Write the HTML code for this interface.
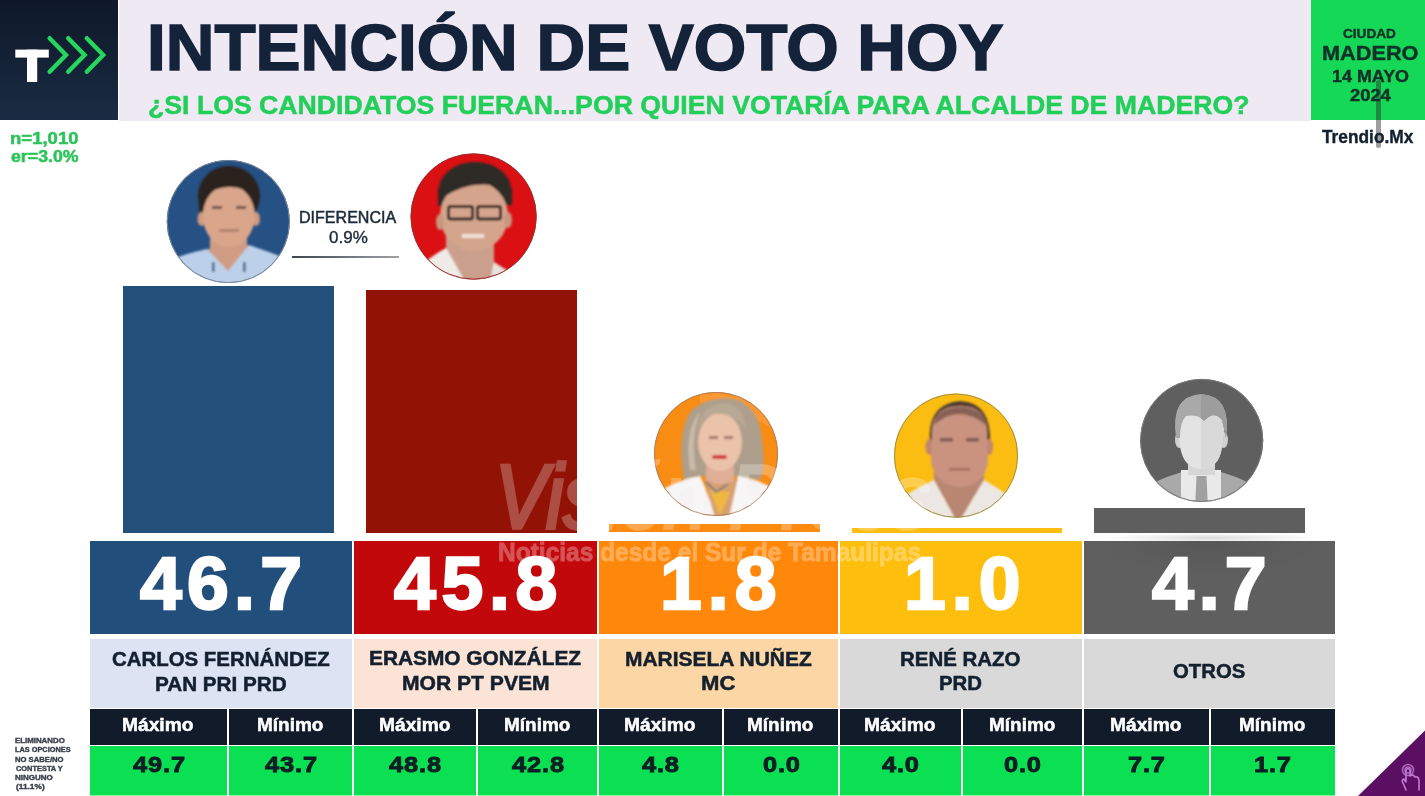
<!DOCTYPE html>
<html><head><meta charset="utf-8"><style>
html,body{margin:0;padding:0;background:#fff;width:1425px;height:796px;overflow:hidden;position:relative}
.b{position:absolute}
.t{position:absolute;white-space:nowrap;line-height:1;font-family:"Liberation Sans",sans-serif;transform-origin:0 0}
svg{position:absolute;left:0;top:0}
</style></head><body>
<div class="b" style="left:0px;top:0px;width:118px;height:120px;background:linear-gradient(#0e1828,#1a2c44);"></div><div class="b" style="left:119px;top:0px;width:1192px;height:120.5px;background:#efe9f4;"></div><div class="b" style="left:1311px;top:0px;width:114px;height:120px;background:#14d856;"></div><div class="b" style="left:123px;top:286px;width:211px;height:247px;background:#234f7b;"></div><div class="b" style="left:366px;top:290px;width:211px;height:243px;background:#921306;"></div><div class="b" style="left:609px;top:524px;width:211px;height:8px;background:#fd8a10;"></div><div class="b" style="left:852px;top:528px;width:210px;height:5px;background:#fcbd12;"></div><div class="b" style="left:1094px;top:508px;width:211px;height:25px;background:#5e5e5e;"></div><div class="b" style="left:90px;top:541px;width:262px;height:93px;background:#224e7c;"></div><div class="b" style="left:90px;top:639px;width:262px;height:69px;background:#dce3f2;"></div><div class="b" style="left:354px;top:541px;width:243px;height:93px;background:#c3080b;"></div><div class="b" style="left:354px;top:639px;width:243px;height:69px;background:#fbe3d6;"></div><div class="b" style="left:599px;top:541px;width:239px;height:93px;background:#ff880b;"></div><div class="b" style="left:599px;top:639px;width:239px;height:69px;background:#fdd6a6;"></div><div class="b" style="left:840px;top:541px;width:242px;height:93px;background:#fdbe0e;"></div><div class="b" style="left:840px;top:639px;width:242px;height:69px;background:#d9d9d9;"></div><div class="b" style="left:1084px;top:541px;width:251px;height:93px;background:#5f5f5f;"></div><div class="b" style="left:1084px;top:639px;width:251px;height:69px;background:#d9d9d9;"></div><div class="b" style="left:90px;top:709px;width:137px;height:36px;background:#111b2a;"></div><div class="b" style="left:90px;top:746px;width:137px;height:49px;background:#0ae052;"></div><div class="b" style="left:90px;top:795px;width:137px;height:1px;background:#86f99c;"></div><div class="b" style="left:229px;top:709px;width:123px;height:36px;background:#111b2a;"></div><div class="b" style="left:229px;top:746px;width:123px;height:49px;background:#0ae052;"></div><div class="b" style="left:229px;top:795px;width:123px;height:1px;background:#86f99c;"></div><div class="b" style="left:354px;top:709px;width:122px;height:36px;background:#111b2a;"></div><div class="b" style="left:354px;top:746px;width:122px;height:49px;background:#0ae052;"></div><div class="b" style="left:354px;top:795px;width:122px;height:1px;background:#86f99c;"></div><div class="b" style="left:478px;top:709px;width:119px;height:36px;background:#111b2a;"></div><div class="b" style="left:478px;top:746px;width:119px;height:49px;background:#0ae052;"></div><div class="b" style="left:478px;top:795px;width:119px;height:1px;background:#86f99c;"></div><div class="b" style="left:599px;top:709px;width:123px;height:36px;background:#111b2a;"></div><div class="b" style="left:599px;top:746px;width:123px;height:49px;background:#0ae052;"></div><div class="b" style="left:599px;top:795px;width:123px;height:1px;background:#86f99c;"></div><div class="b" style="left:724px;top:709px;width:114px;height:36px;background:#111b2a;"></div><div class="b" style="left:724px;top:746px;width:114px;height:49px;background:#0ae052;"></div><div class="b" style="left:724px;top:795px;width:114px;height:1px;background:#86f99c;"></div><div class="b" style="left:840px;top:709px;width:121px;height:36px;background:#111b2a;"></div><div class="b" style="left:840px;top:746px;width:121px;height:49px;background:#0ae052;"></div><div class="b" style="left:840px;top:795px;width:121px;height:1px;background:#86f99c;"></div><div class="b" style="left:963px;top:709px;width:119px;height:36px;background:#111b2a;"></div><div class="b" style="left:963px;top:746px;width:119px;height:49px;background:#0ae052;"></div><div class="b" style="left:963px;top:795px;width:119px;height:1px;background:#86f99c;"></div><div class="b" style="left:1084px;top:709px;width:125px;height:36px;background:#111b2a;"></div><div class="b" style="left:1084px;top:746px;width:125px;height:49px;background:#0ae052;"></div><div class="b" style="left:1084px;top:795px;width:125px;height:1px;background:#86f99c;"></div><div class="b" style="left:1211px;top:709px;width:124px;height:36px;background:#111b2a;"></div><div class="b" style="left:1211px;top:746px;width:124px;height:49px;background:#0ae052;"></div><div class="b" style="left:1211px;top:795px;width:124px;height:1px;background:#86f99c;"></div><div class="b" style="left:1100px;top:533px;width:220px;height:8px;background:radial-gradient(ellipse 50% 60% at 50% 60%, rgba(0,0,0,0.14), rgba(0,0,0,0));"></div><div class="b" style="left:1084px;top:541px;width:251px;height:34px;background:radial-gradient(ellipse 45% 100% at 50% 0%, rgba(0,0,0,0.09), rgba(0,0,0,0));"></div><div class="b" style="left:292px;top:256.3px;width:107px;height:1.6999999999999886px;background:linear-gradient(90deg,#40464f,#a0a2a6);"></div><div class="b" style="left:1375.5px;top:80px;width:5.5px;height:68px;background:rgba(40,40,40,0.45);border-radius:3px;"></div>
<svg width="1425" height="796" viewBox="0 0 1425 796"><defs><clipPath id="c0"><circle cx="228.3" cy="221.5" r="61.5"/></clipPath><clipPath id="c1"><circle cx="473.6" cy="216.5" r="63"/></clipPath><clipPath id="c2"><circle cx="716" cy="454" r="62"/></clipPath><clipPath id="c3"><circle cx="956" cy="455.6" r="62"/></clipPath><clipPath id="c4"><circle cx="1201.7" cy="440.4" r="61.5"/></clipPath><filter id="bl" x="-20%" y="-20%" width="140%" height="140%"><feGaussianBlur stdDeviation="0.8"/></filter></defs><g><rect x="15.3" y="49.6" width="33.5" height="8" fill="#fff"/><rect x="27" y="49.6" width="10.2" height="32.4" fill="#fff"/><polyline points="49.6,38.2 66,55 49.6,71.8" fill="none" stroke="#25d75c" stroke-width="4.4" stroke-linecap="round" stroke-linejoin="miter"/><polyline points="68.2,38.2 84.6,55 68.2,71.8" fill="none" stroke="#25d75c" stroke-width="4.4" stroke-linecap="round" stroke-linejoin="miter"/><polyline points="86.80000000000001,38.2 103.2,55 86.80000000000001,71.8" fill="none" stroke="#25d75c" stroke-width="4.4" stroke-linecap="round" stroke-linejoin="miter"/></g><g clip-path="url(#c0)"><rect x="160" y="150" width="140" height="140" fill="#265184"/><g filter="url(#bl)"><ellipse cx="229" cy="196" rx="31" ry="30" fill="#2b201d"/><path d="M199 200 Q198 222 204 215 L204 200Z" fill="#2b201d"/><ellipse cx="201.5" cy="219" rx="4" ry="7" fill="#cf9a80"/><ellipse cx="256" cy="219" rx="4" ry="7" fill="#cf9a80"/><rect x="210" y="232" width="37" height="30" fill="#d09c84"/><path d="M207 249 L228 273 L249 245Z" fill="#d09c84"/><ellipse cx="228.8" cy="216" rx="26" ry="31" fill="#d9a68c"/><path d="M203 184 Q229 170 255 186 L256 196 Q230 178 203 196Z" fill="#2b201d"/><path d="M160 300 L168 262 Q176 256 207 249 L228 271 L249 245 Q270 252 282 257 L295 300Z" fill="#bcd0ea"/><rect x="212" y="262" width="2.5" height="10" fill="#3a5f88"/><rect x="243" y="262" width="2.5" height="10" fill="#3a5f88"/><rect x="212" y="206" width="10" height="3" fill="#4a3028" opacity="0.7"/><rect x="236" y="206" width="10" height="3" fill="#4a3028" opacity="0.7"/><rect x="219" y="229" width="20" height="3" fill="#9a6a5a" opacity="0.6"/></g></g><circle cx="228.3" cy="221.5" r="61.1" fill="none" stroke="#7c8796" stroke-width="1"/><g clip-path="url(#c1)"><rect x="405" y="145" width="140" height="145" fill="#da1013"/><g filter="url(#bl)"><ellipse cx="475" cy="189" rx="36" ry="27" fill="#2f2a27"/><rect x="438" y="188" width="8" height="18" fill="#2f2a27"/><rect x="503" y="188" width="9" height="17" fill="#2f2a27"/><rect x="446" y="236" width="48" height="45" fill="#caa08c"/><ellipse cx="474" cy="216" rx="34" ry="35" fill="#d5a48c"/><ellipse cx="440" cy="222" rx="4" ry="8" fill="#c99680"/><ellipse cx="508" cy="220" rx="4" ry="8" fill="#c99680"/><path d="M442 192 Q470 165 509 185 L509 190 Q475 176 442 198Z" fill="#2f2a27"/><rect x="448.5" y="206.5" width="24" height="12.5" rx="2" fill="none" stroke="#2a2424" stroke-width="3"/><rect x="477.5" y="206.5" width="23" height="12.5" rx="2" fill="none" stroke="#2a2424" stroke-width="3"/><path d="M405 295 L425 262 Q438 252 446 248 L470 290Z" fill="#efebe7"/><path d="M488 290 L494 262 Q505 270 520 276 L530 300Z" fill="#e8e2dc"/><rect x="462" y="234" width="22" height="4" fill="#f4f0ea" opacity="0.8"/></g></g><circle cx="473.6" cy="216.5" r="62.6" fill="none" stroke="#9a3030" stroke-width="1"/><g clip-path="url(#c2)"><rect x="650" y="388" width="135" height="135" fill="#f98c13"/><path d="M700 392 Q750 392 790 425 L790 440 Q750 410 700 403Z" fill="#fca048" opacity="0.6"/><g filter="url(#bl)"><path d="M684 480 Q676 430 692 410 Q712 394 738 400 Q760 410 762 440 Q766 470 760 480 Q730 474 712 476 Q695 476 684 480Z" fill="#ae9f8c"/><path d="M690 470 Q684 430 700 412 Q690 440 696 470Z" fill="#c8bca8"/><rect x="706" y="460" width="28" height="24" fill="#dfae96"/><ellipse cx="720" cy="442" rx="22" ry="29" fill="#ebc2aa"/><path d="M698 425 Q705 402 728 403 Q745 408 746 430 Q735 412 712 414 Q702 418 698 430Z" fill="#b8a994"/><rect x="709" y="436" width="9" height="3" fill="#6a4a40" opacity="0.6"/><rect x="724" y="436" width="9" height="3" fill="#6a4a40" opacity="0.6"/><rect x="712" y="455" width="15" height="4" rx="2" fill="#d03838"/><path d="M650 530 L658 492 Q676 481 700 476 L718 520 L738 476 Q762 480 778 492 L790 530Z" fill="#f5f3f3"/><path d="M704 478 L716 522 L728 522 L738 478 Q722 490 704 478Z" fill="#d8a070"/><path d="M710 490 L720 516 L730 492Z" fill="#f0b840"/><path d="M706 482 L716 492 L728 484" fill="none" stroke="#7a7a80" stroke-width="2"/></g></g><circle cx="716" cy="454" r="61.6" fill="none" stroke="#b08060" stroke-width="1"/><g clip-path="url(#c3)"><rect x="890" y="388" width="135" height="135" fill="#fbbd12"/><g filter="url(#bl)"><path d="M930 445 Q926 404 960 401 Q992 402 990 445 L984 440 Q986 414 960 412 Q934 414 936 440Z" fill="#4e3a30"/><rect x="934" y="466" width="50" height="30" fill="#b98672"/><path d="M934 478 L958 526 L984 478Z" fill="#b98672"/><ellipse cx="929.5" cy="447" rx="4" ry="8" fill="#c08570"/><ellipse cx="989" cy="447" rx="4" ry="8" fill="#c08570"/><path d="M932 430 Q934 406 960 406 Q986 406 987 430 L988 462 Q984 486 960 487 Q936 486 931 462Z" fill="#c99380"/><path d="M934 425 Q936 408 960 407 Q984 408 986 425 Q972 414 960 414 Q946 414 934 425Z" fill="#6a4c40" opacity="0.7"/><rect x="940" y="438" width="13" height="3.5" fill="#5a3a30" opacity="0.65"/><rect x="966" y="438" width="13" height="3.5" fill="#5a3a30" opacity="0.65"/><rect x="949" y="468" width="21" height="2.5" fill="#8a5a4a" opacity="0.6"/><path d="M890 530 L898 500 Q916 488 934 480 L958 524 L984 480 Q1002 490 1020 505 L1025 530Z" fill="#ede7e3"/></g></g><circle cx="956" cy="455.6" r="61.6" fill="none" stroke="#a09050" stroke-width="1"/><g clip-path="url(#c4)"><rect x="1135" y="375" width="135" height="135" fill="#5f5f5f"/><path d="M1145 510 L1150 485 Q1165 476 1190 470 L1213 470 Q1238 476 1252 485 L1260 510Z" fill="#a9a9a9"/><path d="M1181 470 L1221 470 L1221 510 L1181 510Z" fill="#e9e9e9"/><path d="M1196.5 476 L1206.5 476 L1208 510 L1195 510Z" fill="#a0a0a0"/><rect x="1188" y="455" width="27" height="20" fill="#d6d6d6"/><ellipse cx="1179.5" cy="440" rx="4.5" ry="8" fill="#cfcfcf"/><ellipse cx="1223.5" cy="440" rx="4.5" ry="8" fill="#cfcfcf"/><path d="M1176.5 420 Q1176 396 1201 396 Q1226 396 1225 420 L1222 446 Q1220 468 1201 469 Q1183 468 1180 446Z" fill="#e3e3e3"/><path d="M1201 396 L1201 469 Q1220 468 1222 446 L1225 420 Q1226 396 1201 396Z" fill="#d9d9d9"/><path d="M1176 438 Q1170 396 1201 394 Q1232 396 1226 438 L1222 420 Q1214 410 1204 421 Q1198 414 1186 416 Q1180 422 1180 438Z" fill="#a9a9a9"/><path d="M1201 394 Q1232 396 1226 438 L1222 420 Q1214 410 1204 421 L1201 418Z" fill="#9d9d9d"/></g><circle cx="1201.7" cy="440.4" r="61.1" fill="none" stroke="#7a7a7a" stroke-width="1"/><path d="M1358 796 L1425 730.5 L1425 796Z" fill="#5b0f63"/><g fill="none" stroke="#c07ad0" stroke-width="1.6" stroke-linecap="round" stroke-linejoin="round"><circle cx="1408" cy="770" r="5.5" opacity="0.8"/><circle cx="1408" cy="770" r="3" opacity="0.8"/><path d="M1406 790 L1403 783 Q1401 780 1404 779 L1406 782 L1406 770 Q1408 767 1410 770 L1410 776 Q1413 774 1415 777 Q1418 776 1419 780 L1419 790"/></g></svg>
<div class="t" style="left:147.25px;top:14.96px;font-size:65.26px;font-weight:bold;color:#14233a;transform:scaleX(1.0331);-webkit-text-stroke:1.6px #14233a;">INTENCIÓN DE VOTO HOY</div><div class="t" style="left:148.28px;top:91.88px;font-size:26.31px;font-weight:bold;color:#22cf58;transform:scaleX(1.0139);-webkit-text-stroke:0.5px #22cf58;">¿SI LOS CANDIDATOS FUERAN...POR QUIEN VOTARÍA PARA ALCALDE DE MADERO?</div><div class="t" style="left:1343.46px;top:28.22px;font-size:12.50px;font-weight:bold;color:#13302a;transform:scaleX(1.0884);-webkit-text-stroke:0.4px #13302a;">CIUDAD</div><div class="t" style="left:1321.73px;top:43.64px;font-size:19.91px;font-weight:bold;color:#13302a;transform:scaleX(1.0906);-webkit-text-stroke:0.4px #13302a;">MADERO</div><div class="t" style="left:1331.88px;top:68.30px;font-size:16.42px;font-weight:bold;color:#13302a;transform:scaleX(1.0929);-webkit-text-stroke:0.4px #13302a;">14 MAYO</div><div class="t" style="left:1349.56px;top:88.07px;font-size:15.99px;font-weight:bold;color:#13302a;transform:scaleX(1.1463);-webkit-text-stroke:0.4px #13302a;">2024</div><div class="t" style="left:1322.03px;top:128.99px;font-size:17.73px;font-weight:bold;color:#13202f;transform:scaleX(0.9767);-webkit-text-stroke:0.4px #13202f;">Trendio.Mx</div><div class="t" style="left:9.94px;top:130.07px;font-size:16.28px;font-weight:bold;color:#2cc45a;transform:scaleX(1.1396);-webkit-text-stroke:0.5px #2cc45a;">n=1,010</div><div class="t" style="left:10.58px;top:149.34px;font-size:15.84px;font-weight:bold;color:#2cc45a;transform:scaleX(1.1208);-webkit-text-stroke:0.5px #2cc45a;">er=3.0%</div><div class="t" style="left:299.13px;top:210.34px;font-size:15.84px;font-weight:normal;color:#1d2a38;transform:scaleX(1.0135);-webkit-text-stroke:0.5px #1d2a38;">DIFERENCIA</div><div class="t" style="left:328.74px;top:229.23px;font-size:16.06px;font-weight:normal;color:#1d2a38;transform:scaleX(1.0591);-webkit-text-stroke:0.35px #1d2a38;">0.9%</div><div class="t" style="left:140.07px;top:546.92px;font-size:73.69px;letter-spacing:5.14px;font-weight:bold;color:#ffffff;transform:scaleX(1.0200);-webkit-text-stroke:2.4px #ffffff;">46.7</div><div class="t" style="left:393.77px;top:546.92px;font-size:73.69px;letter-spacing:5.58px;font-weight:bold;color:#ffffff;transform:scaleX(1.0200);-webkit-text-stroke:2.4px #ffffff;">45.8</div><div class="t" style="left:660.40px;top:546.92px;font-size:73.69px;letter-spacing:5.92px;font-weight:bold;color:#ffffff;transform:scaleX(1.0200);-webkit-text-stroke:2.4px #ffffff;">1.8</div><div class="t" style="left:903.50px;top:546.92px;font-size:73.69px;letter-spacing:5.89px;font-weight:bold;color:#ffffff;transform:scaleX(1.0200);-webkit-text-stroke:2.4px #ffffff;">1.0</div><div class="t" style="left:1151.77px;top:546.92px;font-size:73.69px;letter-spacing:4.97px;font-weight:bold;color:#ffffff;transform:scaleX(1.0200);-webkit-text-stroke:2.4px #ffffff;">4.7</div><div class="t" style="left:112.03px;top:648.52px;font-size:20.35px;font-weight:bold;color:#13202f;transform:scaleX(1.0035);-webkit-text-stroke:0.5px #13202f;">CARLOS FERNÁNDEZ</div><div class="t" style="left:154.85px;top:673.57px;font-size:20.06px;font-weight:bold;color:#13202f;transform:scaleX(1.0309);-webkit-text-stroke:0.5px #13202f;">PAN PRI PRD</div><div class="t" style="left:369.24px;top:648.89px;font-size:19.91px;font-weight:bold;color:#13202f;transform:scaleX(1.0478);-webkit-text-stroke:0.5px #13202f;">ERASMO GONZÁLEZ</div><div class="t" style="left:401.73px;top:673.99px;font-size:19.33px;font-weight:bold;color:#13202f;transform:scaleX(1.0907);-webkit-text-stroke:0.5px #13202f;">MOR PT PVEM</div><div class="t" style="left:624.93px;top:648.57px;font-size:20.06px;font-weight:bold;color:#13202f;transform:scaleX(1.0455);-webkit-text-stroke:0.5px #13202f;">MARISELA NUÑEZ</div><div class="t" style="left:700.66px;top:673.40px;font-size:20.49px;font-weight:bold;color:#13202f;transform:scaleX(1.0795);-webkit-text-stroke:0.5px #13202f;">MC</div><div class="t" style="left:900.27px;top:648.87px;font-size:20.06px;font-weight:bold;color:#13202f;transform:scaleX(1.0191);-webkit-text-stroke:0.5px #13202f;">RENÉ RAZO</div><div class="t" style="left:938.97px;top:673.89px;font-size:19.33px;font-weight:bold;color:#13202f;transform:scaleX(1.0540);-webkit-text-stroke:0.5px #13202f;">PRD</div><div class="t" style="left:1172.84px;top:661.18px;font-size:20.64px;font-weight:bold;color:#13202f;transform:scaleX(0.9850);-webkit-text-stroke:0.5px #13202f;">OTROS</div><div class="t" style="left:122.45px;top:715.87px;font-size:18.17px;font-weight:bold;color:#ffffff;transform:scaleX(1.0574);-webkit-text-stroke:0.5px #ffffff;">Máximo</div><div class="t" style="left:132.77px;top:753.36px;font-size:22.67px;letter-spacing:0.82px;font-weight:bold;color:#0f1e25;transform:scaleX(1.1200);-webkit-text-stroke:0.9px #0f1e25;">49.7</div><div class="t" style="left:256.97px;top:715.87px;font-size:18.17px;font-weight:bold;color:#ffffff;transform:scaleX(1.0457);-webkit-text-stroke:0.5px #ffffff;">Mínimo</div><div class="t" style="left:264.77px;top:753.36px;font-size:22.67px;letter-spacing:0.82px;font-weight:bold;color:#0f1e25;transform:scaleX(1.1200);-webkit-text-stroke:0.9px #0f1e25;">43.7</div><div class="t" style="left:378.95px;top:715.87px;font-size:18.17px;font-weight:bold;color:#ffffff;transform:scaleX(1.0574);-webkit-text-stroke:0.5px #ffffff;">Máximo</div><div class="t" style="left:389.10px;top:753.36px;font-size:22.67px;letter-spacing:0.83px;font-weight:bold;color:#0f1e25;transform:scaleX(1.1200);-webkit-text-stroke:0.9px #0f1e25;">48.8</div><div class="t" style="left:503.97px;top:715.87px;font-size:18.17px;font-weight:bold;color:#ffffff;transform:scaleX(1.0457);-webkit-text-stroke:0.5px #ffffff;">Mínimo</div><div class="t" style="left:511.60px;top:753.36px;font-size:22.67px;letter-spacing:0.83px;font-weight:bold;color:#0f1e25;transform:scaleX(1.1200);-webkit-text-stroke:0.9px #0f1e25;">42.8</div><div class="t" style="left:624.45px;top:715.87px;font-size:18.17px;font-weight:bold;color:#ffffff;transform:scaleX(1.0574);-webkit-text-stroke:0.5px #ffffff;">Máximo</div><div class="t" style="left:642.18px;top:753.36px;font-size:22.67px;letter-spacing:0.76px;font-weight:bold;color:#0f1e25;transform:scaleX(1.1200);-webkit-text-stroke:0.9px #0f1e25;">4.8</div><div class="t" style="left:747.47px;top:715.87px;font-size:18.17px;font-weight:bold;color:#ffffff;transform:scaleX(1.0457);-webkit-text-stroke:0.5px #ffffff;">Mínimo</div><div class="t" style="left:762.53px;top:753.36px;font-size:22.67px;letter-spacing:0.73px;font-weight:bold;color:#0f1e25;transform:scaleX(1.1200);-webkit-text-stroke:0.9px #0f1e25;">0.0</div><div class="t" style="left:864.45px;top:715.87px;font-size:18.17px;font-weight:bold;color:#ffffff;transform:scaleX(1.0574);-webkit-text-stroke:0.5px #ffffff;">Máximo</div><div class="t" style="left:882.32px;top:753.36px;font-size:22.67px;letter-spacing:0.76px;font-weight:bold;color:#0f1e25;transform:scaleX(1.1200);-webkit-text-stroke:0.9px #0f1e25;">4.0</div><div class="t" style="left:988.97px;top:715.87px;font-size:18.17px;font-weight:bold;color:#ffffff;transform:scaleX(1.0457);-webkit-text-stroke:0.5px #ffffff;">Mínimo</div><div class="t" style="left:1004.03px;top:753.36px;font-size:22.67px;letter-spacing:0.73px;font-weight:bold;color:#0f1e25;transform:scaleX(1.1200);-webkit-text-stroke:0.9px #0f1e25;">0.0</div><div class="t" style="left:1110.45px;top:715.87px;font-size:18.17px;font-weight:bold;color:#ffffff;transform:scaleX(1.0574);-webkit-text-stroke:0.5px #ffffff;">Máximo</div><div class="t" style="left:1128.03px;top:753.36px;font-size:22.67px;letter-spacing:0.73px;font-weight:bold;color:#0f1e25;transform:scaleX(1.1200);-webkit-text-stroke:0.9px #0f1e25;">7.7</div><div class="t" style="left:1239.47px;top:715.87px;font-size:18.17px;font-weight:bold;color:#ffffff;transform:scaleX(1.0457);-webkit-text-stroke:0.5px #ffffff;">Mínimo</div><div class="t" style="left:1254.30px;top:753.36px;font-size:22.67px;letter-spacing:0.71px;font-weight:bold;color:#0f1e25;transform:scaleX(1.1200);-webkit-text-stroke:0.9px #0f1e25;">1.7</div><div class="t" style="left:15.44px;top:738.30px;font-size:6.76px;font-weight:bold;color:#383d48;transform:scaleX(1.1635);-webkit-text-stroke:0.35px #383d48;">ELIMINANDO</div><div class="t" style="left:15.48px;top:747.45px;font-size:6.76px;font-weight:bold;color:#383d48;transform:scaleX(1.0893);-webkit-text-stroke:0.35px #383d48;">LAS OPCIONES</div><div class="t" style="left:15.46px;top:756.60px;font-size:6.76px;font-weight:bold;color:#383d48;transform:scaleX(1.1345);-webkit-text-stroke:0.35px #383d48;">NO SABE/NO</div><div class="t" style="left:15.68px;top:765.75px;font-size:6.76px;font-weight:bold;color:#383d48;transform:scaleX(1.0983);-webkit-text-stroke:0.35px #383d48;">CONTESTA Y</div><div class="t" style="left:15.43px;top:774.90px;font-size:6.76px;font-weight:bold;color:#383d48;transform:scaleX(1.1846);-webkit-text-stroke:0.35px #383d48;">NINGUNO</div><div class="t" style="left:15.56px;top:784.05px;font-size:6.76px;font-weight:bold;color:#383d48;transform:scaleX(1.2319);-webkit-text-stroke:0.35px #383d48;">(11.1%)</div>
<div class="t" style="left:495.08px;top:452.47px;font-size:90.12px;font-weight:normal;color:#ffffff;transform:scaleX(0.8708);font-style:italic;opacity:0.25;-webkit-text-stroke:3.5px #ffffff;">Visión Press</div><div class="t" style="left:498.35px;top:539.65px;font-size:25.58px;font-weight:bold;color:#ffffff;transform:scaleX(0.9580);opacity:0.3;-webkit-text-stroke:0.8px #fff;">Noticias desde el Sur de Tamaulipas</div>
</body></html>
